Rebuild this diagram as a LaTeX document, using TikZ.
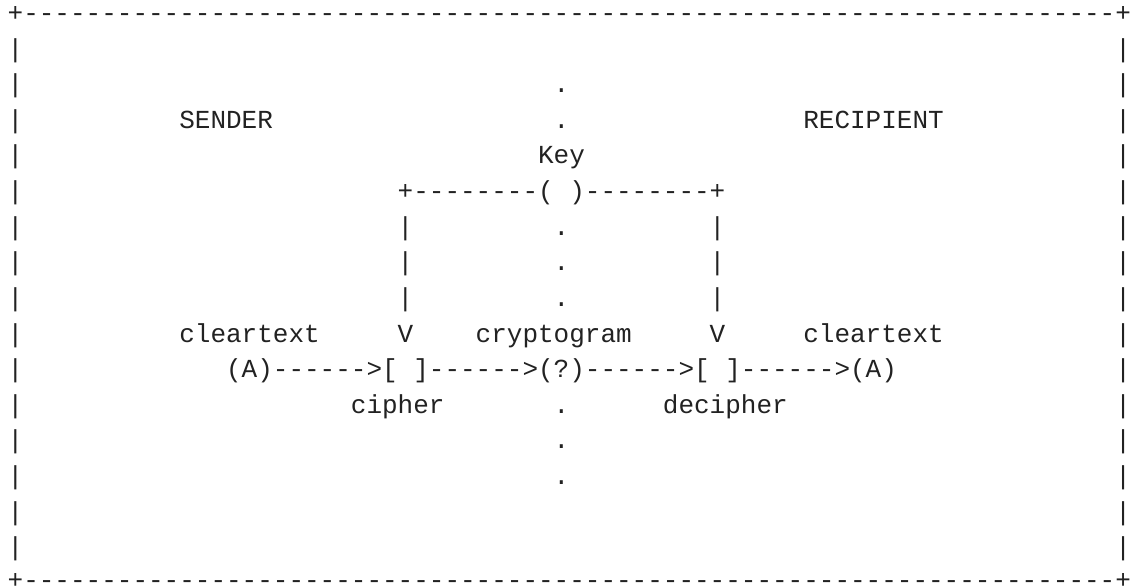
\documentclass[tikz,border=0pt]{standalone}
\usepackage{fontspec}
\setmonofont{Liberation Mono}
\definecolor{ink}{HTML}{222222}
\tikzset{
  asc/.style={anchor=base west, inner sep=0pt, outer sep=0pt, text=ink,
              font=\ttfamily\fontsize{26}{26}\selectfont}
}
\begin{document}
\begin{tikzpicture}[x=1pt,y=1pt]
\fill[white] (0,0) rectangle (1134,-588);
\useasboundingbox (0,0) rectangle (1134,-588);
% column c starts at 7.7+15.6*c ; line n baseline at 21.4+35.63*(n-1)
% outer frame
\node[asc] (frametop) at ({7.7},{-21.4}) {+----------------------------------------------------------------------+};
\node[asc] (framebot) at ({7.7},{-588.6}) {+----------------------------------------------------------------------+};
\foreach \n in {2,...,16}{
  \node[asc] (lbar\n) at ({7.7},{-(21.4+35.63*(\n-1))}) {|};
  \node[asc] (rbar\n) at ({7.7+15.6*71},{-(21.4+35.63*(\n-1))}) {|};
}
% dotted key line (column 35)
\foreach \n in {3,4,7,8,9,12,13,14}{
  \node[asc] (dot\n) at ({7.7+15.6*35},{-(21.4+35.63*(\n-1))}) {.};
}
% labels
\node[asc] (sender)    at ({7.7+15.6*11},{-(21.4+35.63*3)}) {SENDER};
\node[asc] (recipient) at ({7.7+15.6*51},{-(21.4+35.63*3)}) {RECIPIENT};
\node[asc] (key)       at ({7.7+15.6*34},{-(21.4+35.63*4)}) {Key};
\node[asc] (keybar)    at ({7.7+15.6*25},{-(21.4+35.63*5)}) {+--------( )--------+};
\foreach \n in {7,8,9}{
  \node[asc] (lk\n) at ({7.7+15.6*25},{-(21.4+35.63*(\n-1))}) {|};
  \node[asc] (rk\n) at ({7.7+15.6*45},{-(21.4+35.63*(\n-1))}) {|};
}
\node[asc] (clearL)  at ({7.7+15.6*11},{-(21.4+35.63*9)}) {cleartext};
\node[asc] (vL)      at ({7.7+15.6*25},{-(21.4+35.63*9)}) {V};
\node[asc] (crypto)  at ({7.7+15.6*30},{-(21.4+35.63*9)}) {cryptogram};
\node[asc] (vR)      at ({7.7+15.6*45},{-(21.4+35.63*9)}) {V};
\node[asc] (clearR)  at ({7.7+15.6*51},{-(21.4+35.63*9)}) {cleartext};
\node[asc] (flow)    at ({7.7+15.6*14},{-(21.4+35.63*10)}) {(A)------>[ ]------>(?)------>[ ]------>(A)};
\node[asc] (cipher)  at ({7.7+15.6*22},{-(21.4+35.63*11)}) {cipher};
\node[asc] (decipher) at ({7.7+15.6*42},{-(21.4+35.63*11)}) {decipher};
\end{tikzpicture}
\end{document}
